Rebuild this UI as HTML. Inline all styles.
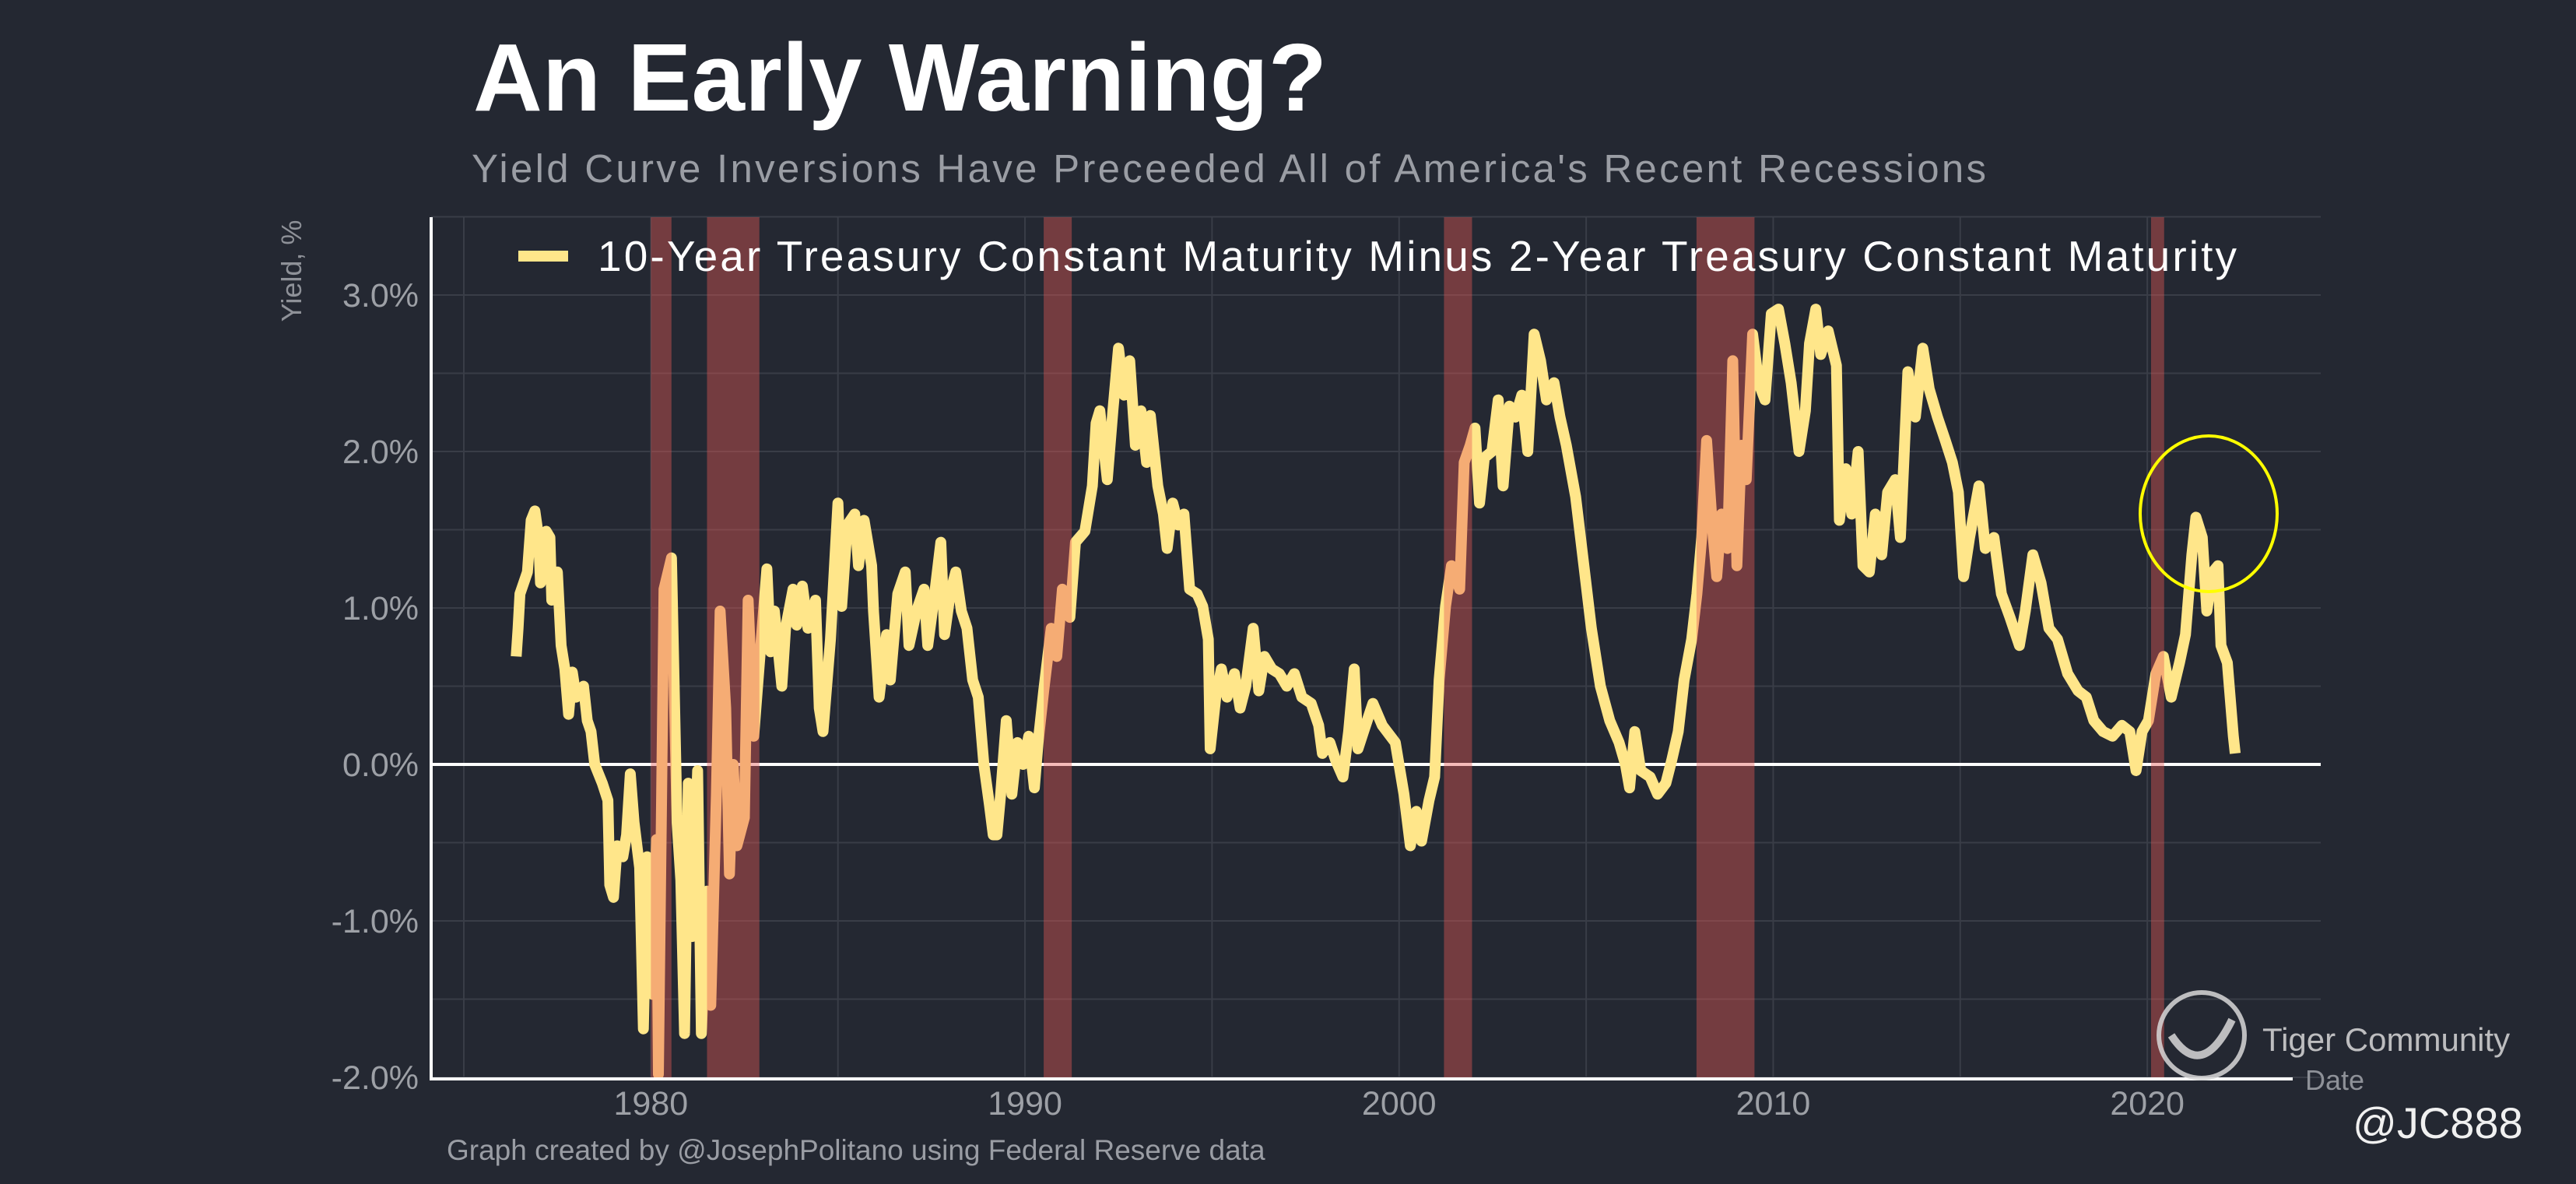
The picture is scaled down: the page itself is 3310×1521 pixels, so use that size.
<!DOCTYPE html>
<html><head><meta charset="utf-8">
<style>
html,body{margin:0;padding:0;background:#242832;}
svg{display:block;font-family:"Liberation Sans",Arial,sans-serif;}
</style></head>
<body>
<svg id="chart" width="3310" height="1521" viewBox="0 0 3310 1521" xmlns="http://www.w3.org/2000/svg">
<rect x="0" y="0" width="3310" height="1521" fill="#242832"/>
<text x="608" y="142" font-size="123" font-weight="bold" fill="#ffffff" textLength="1097">An Early Warning?</text>
<text x="606" y="234" font-size="51" fill="#9a9da4" textLength="1946">Yield Curve Inversions Have Preceeded All of America's Recent Recessions</text>
<g id="grid"></g>
<line x1="554" y1="982" x2="2982" y2="982" stroke="#ffffff" stroke-width="4" id="zeroline"/>
<path id="series" fill="none" stroke="#ffe68a" stroke-width="14" stroke-linejoin="round"/>
<g id="bands"></g>
<line x1="554" y1="279" x2="554" y2="1386" stroke="#ffffff" stroke-width="4"/>
<line x1="552" y1="1386" x2="2946" y2="1386" stroke="#ffffff" stroke-width="4"/>
<g id="yticks"></g>
<g id="xticks"></g>
<text transform="translate(387,348) rotate(-90)" text-anchor="middle" font-size="36" fill="#8e9198">Yield, %</text>
<text x="2962" y="1400" font-size="36" fill="#8e9198">Date</text>
<g>
<line x1="666" y1="329" x2="730" y2="329" stroke="#ffe68a" stroke-width="14"/>
<text x="768" y="348" font-size="55" fill="#ffffff" textLength="2106">10-Year Treasury Constant Maturity Minus 2-Year Treasury Constant Maturity</text>
</g>
<ellipse cx="2838" cy="660" rx="88" ry="100" fill="none" stroke="#ffff00" stroke-width="4"/>
<text x="574" y="1490" font-size="37" fill="#9a9da4">Graph created by @JosephPolitano using Federal Reserve data</text>
<g opacity="0.85">
<circle cx="2829" cy="1330" r="55" fill="none" stroke="#d8d8d8" stroke-width="6"/>
<path d="M2790 1330 Q2829 1390 2868 1310" fill="none" stroke="#d8d8d8" stroke-width="10"/>
<text x="2907" y="1350" font-size="42" fill="#d8d8d8">Tiger Community</text>
</g>
<text x="3023" y="1462" font-size="56" fill="#f0f0f0">@JC888</text>
</svg>
<script>
const years=[1976.4,1976.45,1976.5,1976.7,1976.8,1976.9,1977.0,1977.05,1977.2,1977.3,1977.35,1977.5,1977.6,1977.7,1977.8,1977.9,1978.0,1978.2,1978.3,1978.4,1978.5,1978.7,1978.85,1978.9,1979.0,1979.1,1979.25,1979.35,1979.45,1979.55,1979.7,1979.8,1979.9,1980.05,1980.15,1980.2,1980.35,1980.55,1980.7,1980.8,1980.9,1981.0,1981.1,1981.25,1981.35,1981.5,1981.6,1981.75,1981.85,1982.0,1982.1,1982.2,1982.3,1982.5,1982.6,1982.75,1982.9,1983.1,1983.2,1983.3,1983.5,1983.6,1983.8,1983.9,1984.05,1984.2,1984.4,1984.5,1984.6,1984.8,1985.0,1985.1,1985.25,1985.45,1985.55,1985.7,1985.9,1985.95,1986.1,1986.3,1986.4,1986.6,1986.8,1986.9,1987.1,1987.3,1987.4,1987.6,1987.75,1987.85,1988.0,1988.15,1988.3,1988.45,1988.6,1988.75,1988.9,1989.05,1989.15,1989.25,1989.35,1989.5,1989.65,1989.8,1989.95,1990.1,1990.25,1990.35,1990.5,1990.7,1990.85,1991.0,1991.2,1991.35,1991.6,1991.8,1991.9,1992.0,1992.2,1992.35,1992.5,1992.65,1992.8,1992.95,1993.1,1993.25,1993.35,1993.55,1993.7,1993.8,1993.95,1994.1,1994.25,1994.4,1994.6,1994.75,1994.9,1994.95,1995.1,1995.25,1995.4,1995.6,1995.75,1995.9,1996.1,1996.25,1996.4,1996.6,1996.8,1997.0,1997.2,1997.4,1997.65,1997.85,1997.95,1998.15,1998.3,1998.5,1998.65,1998.8,1998.9,1999.05,1999.3,1999.55,1999.9,2000.13,2000.3,2000.46,2000.6,2000.8,2000.95,2001.07,2001.24,2001.4,2001.62,2001.74,2001.9,2002.03,2002.15,2002.28,2002.48,2002.65,2002.78,2002.95,2003.11,2003.28,2003.44,2003.61,2003.78,2003.94,2004.14,2004.3,2004.47,2004.72,2004.94,2005.14,2005.38,2005.63,2005.88,2006.05,2006.16,2006.3,2006.46,2006.71,2006.91,2007.13,2007.29,2007.46,2007.62,2007.82,2007.96,2008.09,2008.22,2008.37,2008.49,2008.62,2008.78,2008.92,2009.03,2009.15,2009.28,2009.45,2009.61,2009.78,2009.95,2010.14,2010.31,2010.48,2010.69,2010.86,2010.97,2011.14,2011.27,2011.47,2011.69,2011.77,2011.94,2012.1,2012.27,2012.4,2012.57,2012.73,2012.9,2013.06,2013.26,2013.4,2013.6,2013.8,2014.0,2014.17,2014.39,2014.6,2014.79,2014.95,2015.09,2015.25,2015.5,2015.67,2015.9,2016.1,2016.33,2016.58,2016.74,2016.94,2017.16,2017.37,2017.6,2017.87,2018.15,2018.37,2018.57,2018.82,2019.07,2019.32,2019.53,2019.7,2019.86,2020.03,2020.23,2020.43,2020.64,2020.86,2021.02,2021.19,2021.3,2021.47,2021.59,2021.75,2021.89,2021.97,2022.14,2022.3,2022.35];
const spread=[0.69,0.87,1.09,1.23,1.56,1.62,1.45,1.16,1.49,1.45,1.05,1.23,0.76,0.61,0.32,0.59,0.43,0.50,0.28,0.21,0.0,-0.12,-0.23,-0.77,-0.85,-0.52,-0.59,-0.45,-0.06,-0.37,-0.66,-1.69,-0.59,-1.47,-0.48,-1.98,1.12,1.32,-0.37,-0.74,-1.72,-0.12,-1.10,-0.04,-1.72,-0.81,-1.54,-0.19,0.98,0.36,-0.70,0.0,-0.52,-0.34,1.05,0.18,0.65,1.25,0.72,0.98,0.50,0.87,1.12,0.89,1.14,0.87,1.05,0.36,0.21,0.80,1.67,1.01,1.53,1.60,1.27,1.56,1.27,0.98,0.43,0.83,0.54,1.09,1.23,0.76,0.98,1.12,0.76,1.12,1.42,0.83,1.09,1.23,0.98,0.87,0.54,0.43,0.0,-0.26,-0.45,-0.45,-0.19,0.28,-0.19,0.14,0.0,0.18,-0.15,0.14,0.47,0.87,0.69,1.12,0.94,1.42,1.49,1.78,2.18,2.26,1.82,2.26,2.66,2.36,2.58,2.04,2.26,1.93,2.23,1.78,1.60,1.38,1.67,1.53,1.60,1.12,1.09,1.01,0.80,0.10,0.43,0.61,0.43,0.58,0.36,0.50,0.87,0.47,0.69,0.61,0.58,0.50,0.58,0.43,0.39,0.25,0.07,0.14,0.03,-0.08,0.21,0.61,0.10,0.21,0.39,0.25,0.14,-0.19,-0.52,-0.30,-0.49,-0.23,-0.08,0.54,1.01,1.27,1.12,1.93,2.04,2.15,1.67,1.96,2.00,2.33,1.78,2.29,2.22,2.36,2.00,2.75,2.58,2.33,2.44,2.22,2.04,1.71,1.27,0.87,0.50,0.28,0.14,0.0,-0.15,0.21,-0.04,-0.08,-0.19,-0.12,0.03,0.21,0.54,0.80,1.09,1.45,2.07,1.53,1.20,1.60,1.38,2.58,1.27,2.04,1.82,2.75,2.44,2.33,2.88,2.91,2.69,2.44,2.00,2.26,2.69,2.91,2.62,2.77,2.55,1.56,1.89,1.60,2.00,1.27,1.23,1.60,1.34,1.74,1.82,1.45,2.51,2.22,2.66,2.40,2.22,2.07,1.93,1.74,1.20,1.45,1.78,1.38,1.45,1.09,0.94,0.76,0.98,1.34,1.16,0.87,0.80,0.58,0.47,0.43,0.28,0.21,0.18,0.25,0.21,-0.04,0.21,0.28,0.58,0.69,0.43,0.65,0.83,1.34,1.58,1.45,0.98,1.23,1.27,0.76,0.65,0.18,0.07];
const recStart=[1980.0,1981.5,1990.5,2001.2,2007.95,2020.1];
const recEnd=[1980.55,1982.9,1991.25,2001.95,2009.5,2020.45];
const yTickVals=[-2,-1,0,1,2,3];
const yTickLabels=["-2.0%","-1.0%","0.0%","1.0%","2.0%","3.0%"];
const xTickVals=[1980,1990,2000,2010,2020];
const xTickLabels=["1980","1990","2000","2010","2020"];

const NS="http://www.w3.org/2000/svg";
const X0=554,X1=2982,YT=279,YB=1386;
function xs(y){return 596+(y-1975)*48.07;}
function ys(v){return 982-v*201;}
function mk(tag,attrs,parent){const e=document.createElementNS(NS,tag);for(const k in attrs)e.setAttribute(k,attrs[k]);parent.appendChild(e);return e;}

const grid=document.getElementById('grid');
for(let v=-2;v<=3.5001;v+=0.5){
  const l=mk('line',{x1:X0,x2:X1,y1:ys(v),y2:ys(v),stroke:'#393d47','stroke-width':2},grid);
  
  
}
for(let yr=1975;yr<=2020;yr+=5){
  const l=mk('line',{x1:xs(yr),x2:xs(yr),y1:YT,y2:YB,stroke:'#393d47','stroke-width':2},grid);
  
  
}

let d='';
for(let i=0;i<years.length;i++){d+=(i?'L':'M')+xs(years[i]).toFixed(1)+' '+ys(spread[i]).toFixed(1);}
document.getElementById('series').setAttribute('d',d);

const bands=document.getElementById('bands');
for(let i=0;i<recStart.length;i++){
  const r=mk('rect',{x:xs(recStart[i]),y:YT,width:xs(recEnd[i])-xs(recStart[i]),height:YB-YT-2,fill:'rgb(231,91,86)','fill-opacity':0.41},bands);
  
  
}

const yt=document.getElementById('yticks');
for(let i=0;i<yTickVals.length;i++){
  const t=mk('text',{x:538,y:ys(yTickVals[i])+15,'text-anchor':'end','font-size':43,fill:'#9da0a6'},yt);
  t.textContent=yTickLabels[i];
  
  
}
const xt=document.getElementById('xticks');
for(let i=0;i<xTickVals.length;i++){
  const t=mk('text',{x:xs(xTickVals[i]),y:1432,'text-anchor':'middle','font-size':43,fill:'#9da0a6'},xt);
  t.textContent=xTickLabels[i];
  
  
}
</script>
</body></html>
